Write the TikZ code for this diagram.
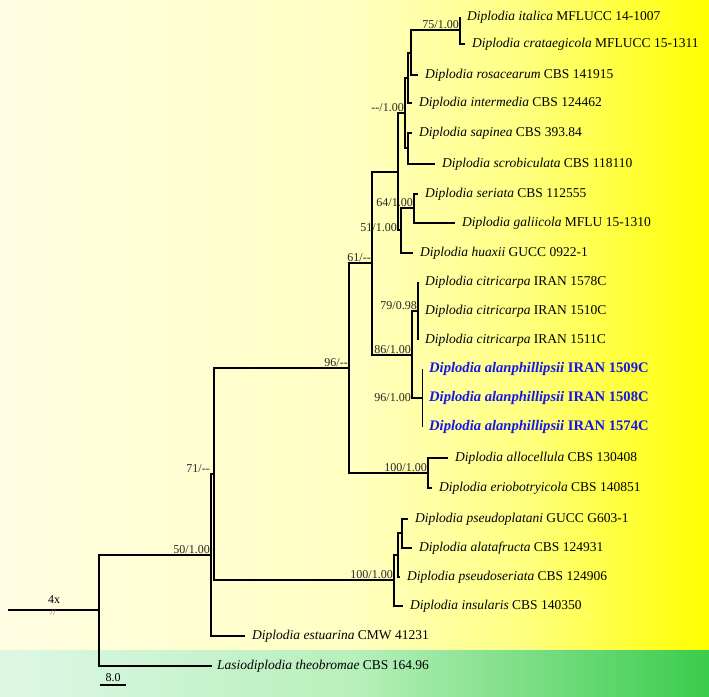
\documentclass[tikz,border=0pt]{standalone}
\usepackage{fontspec}
\setmainfont{Liberation Serif}
\usepackage{xcolor}
\usetikzlibrary{positioning}
\definecolor{alanblue}{RGB}{22,22,232}
\pgfdeclarehorizontalshading{yellowbg}{100bp}{rgb(0bp)=(1,0.993,0.89); rgb(25bp)=(1,0.993,0.89); rgb(50bp)=(1,1,0.76); rgb(62bp)=(1,1,0.5); rgb(75bp)=(1,1,0); rgb(100bp)=(1,1,0)}
\pgfdeclarehorizontalshading{greenbg}{100bp}{rgb(0bp)=(0.87,0.97,0.9); rgb(25bp)=(0.87,0.97,0.9); rgb(50bp)=(0.72,0.94,0.73); rgb(75bp)=(0.23,0.8,0.3); rgb(100bp)=(0.23,0.8,0.3)}

\begin{document}
\begin{tikzpicture}[x=1pt,y=-1pt,
    br/.style={line width=1.8pt},
    thinbr/.style={line width=0.9pt},
    tax/.style={inner sep=1pt,font=\fontsize{13.5}{15}\selectfont},
    alan/.style={tax,font=\fontsize{14.6}{16}\selectfont\bfseries,text=alanblue},
    supp/.style={anchor=south east,inner sep=1pt,font=\fontsize{12}{13}\selectfont,text=black!85}]
        \useasboundingbox (0,0) rectangle (709,696);
        \shade[shading=yellowbg] (0,0) rectangle (709,650);
        \shade[shading=greenbg] (0,650) rectangle (709,696);

        \coordinate (root0) at (8,610);
        \coordinate (root) at (99,610);
        \coordinate (n50) at (211,555);
        \coordinate (n71) at (214,474);
        \coordinate (n96a) at (349,368);
        \coordinate (n61) at (372,263);
        \coordinate (nQ) at (398,172);
        \coordinate (nR) at (405,113);
        \coordinate (nT) at (408,78);
        \coordinate (nP) at (411,53);
        \coordinate (n75) at (460,30);
        \coordinate (nU) at (408,148);
        \coordinate (nS) at (401,230);
        \coordinate (n64) at (414,208);
        \coordinate (n86) at (412,355);
        \coordinate (n79) at (418,311);
        \coordinate (n96b) at (422,398);
        \coordinate (n100a) at (428,473);
        \coordinate (n100b) at (394,580);
        \coordinate (nW) at (398,555);
        \coordinate (nX) at (402,533);

        \foreach \nm/\x/\y/\sp/\st in {ita/460/17/italica/MFLUCC 14-1007, cra/465/44/crataegicola/MFLUCC 15-1311,
            ros/418/75/rosacearum/CBS 141915, int/412/103/intermedia/CBS 124462, sap/412/133/sapinea/CBS 393.84,
            scr/435/164/scrobiculata/CBS 118110, ser/418/194/seriata/CBS 112555, gal/455/223/galiicola/MFLU 15-1310,
            hua/413/253/huaxii/GUCC 0922-1, cit1/418/282/citricarpa/IRAN 1578C, cit2/418/311/citricarpa/IRAN 1510C,
            cit3/418/340/citricarpa/IRAN 1511C, allo/448/458/allocellula/CBS 130408, erio/432/488/eriobotryicola/CBS 140851,
            pspl/408/519/pseudoplatani/GUCC G603-1, alat/412/548/alatafructa/CBS 124931, psse/400/577/pseudoseriata/CBS 124906,
            ins/403/606/insularis/CBS 140350, est/245/636/estuarina/CMW 41231}
        {
            \coordinate (\nm-t) at (\x,\y);
            \node[tax,right=6pt of \nm-t] (\nm) {\textit{Diplodia \sp} \st};
        }
        \foreach \nm/\y/\st in {aln1/369/1509C, aln2/398/1508C, aln3/427/1574C}
        {
            \coordinate (\nm-t) at (422,\y);
            \node[alan,right=6pt of \nm-t] (\nm) {\textit{Diplodia alanphillipsii} IRAN \st};
        }
        \coordinate (las-t) at (212,666);
        \node[tax,right=4pt of las-t] (las) {\textit{Lasiodiplodia theobromae} CBS 164.96};

        \draw[br] (root0) -- (root);
        \foreach \a/\b in {root/n50, root/las-t, n50/n71, n50/est-t, n71/n96a, n71/n100b,
            n96a/n61, n96a/n100a, n61/nQ, n61/n86, nQ/nR, nQ/nS, nR/nT, nR/nU,
            nT/nP, nT/int-t, nP/n75, nP/ros-t, n75/ita-t, n75/cra-t, nU/sap-t, nU/scr-t,
            nS/n64, nS/hua-t, n64/ser-t, n64/gal-t, n86/n79, n86/n96b, n79/cit1-t, n79/cit3-t,
            n100a/allo-t, n100a/erio-t, n100b/nW, n100b/ins-t, nW/nX, nW/psse-t, nX/pspl-t, nX/alat-t}
            \draw[br] (\a) |- (\b);
        \draw[thinbr] (n96b) |- (aln1-t);
        \draw[thinbr] (n96b) |- (aln3-t);

        \node[supp] (s75) at (n75) {75/1.00};
        \node[supp] (sR) at (nR) {{-}{-}/1.00};
        \node[supp] (s64) at (n64) {64/1.00};
        \node[supp,anchor=east,yshift=2pt] (sS) at (nQ |- nS) {51/1.00};
        \node[supp] (s61) at (n61) {61/{-}{-}};
        \node[supp] (s79) at (n79) {79/0.98};
        \node[supp] (s86) at (n86) {86/1.00};
        \node[supp,anchor=east] (s96b) at (n86 |- n96b) {96/1.00};
        \node[supp] (s96a) at (n96a) {96/{-}{-}};
        \node[supp] (s100a) at (n100a) {100/1.00};
        \node[supp] (s71) at (n50 |- n71) {71/{-}{-}};
        \node[supp] (s50) at (n50) {50/1.00};
        \node[supp] (s100b) at (n100b) {100/1.00};

        \node[font=\fontsize{12}{13}\selectfont] (four) at (54,600) {4x};
        \node[font=\fontsize{9.5}{10}\selectfont,text=black!55] (brk) at (53,612) {//};
        \coordinate (sb1) at (100,685);
        \coordinate (sb2) at (126,685);
        \draw[br] (sb1) -- node[above=-1pt,font=\fontsize{12}{13}\selectfont] (sbl) {8.0} (sb2);
\end{tikzpicture}
\end{document}
